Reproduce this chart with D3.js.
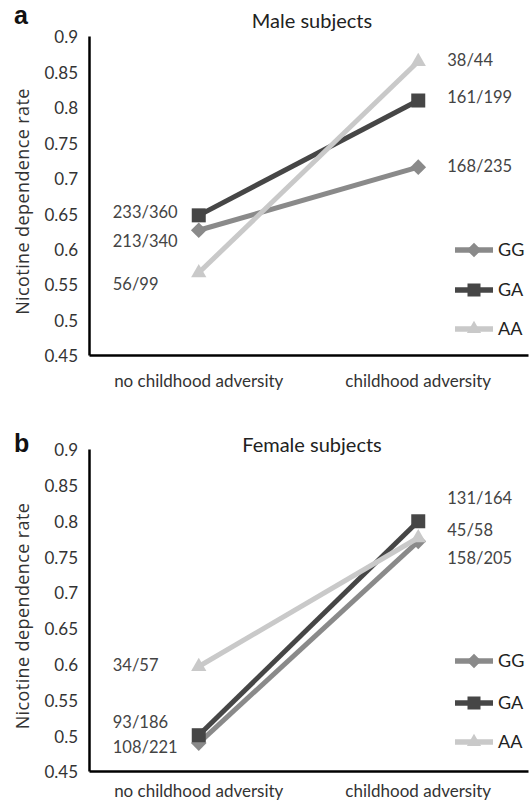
<!DOCTYPE html>
<html>
<head>
<meta charset="utf-8">
<script src="https://cdn.jsdelivr.net/npm/d3@7"></script>
<style>
  body { margin: 0; background: #fff; }
  svg text { font-family: Lato, "Open Sans", sans-serif; }
  .axis text { font-size: 17px; fill: #333; }
  .axis path { stroke: #000; stroke-width: 2.5px; }
</style>
</head>
<body>
<div id="chart"></div>
<script>
// DATA
const conditions = ["no childhood adversity", "childhood adversity"];
const genotypes = ["GG", "GA", "AA"];
const yTicks = [0.45, 0.5, 0.55, 0.6, 0.65, 0.7, 0.75, 0.8, 0.85, 0.9];

// male subjects: rate per genotype (no adversity, adversity)
const maleGG = [0.626, 0.715];
const maleGA = [0.647, 0.809];
const maleAA = [0.566, 0.864];
const maleGGLabels = ["213/340", "168/235"];
const maleGALabels = ["233/360", "161/199"];
const maleAALabels = ["56/99", "38/44"];

// female subjects
const femaleGG = [0.489, 0.771];
const femaleGA = [0.500, 0.799];
const femaleAA = [0.596, 0.776];
const femaleGGLabels = ["108/221", "158/205"];
const femaleGALabels = ["93/186", "131/164"];
const femaleAALabels = ["34/57", "45/58"];

const colors = {GG: "#8a8a8a", GA: "#464646", AA: "#c9c9c9"};

// LAYOUT
const W = 529, H = 805;
const svg = d3.select("#chart").append("svg")
    .attr("width", W)
    .attr("height", H);

const x = d3.scaleBand()
    .domain(conditions)
    .range([89, 528]);

// label y nudges (px) so numbers don't collide, indexed [genotype][condition]
const panels = [
    {letter: "a", title: "Male subjects", top: 36, bottom: 355, letterY: 24, titleY: 28, xPad: 19,
     series: {GG: maleGG, GA: maleGA, AA: maleAA},
     labels: {GG: maleGGLabels, GA: maleGALabels, AA: maleAALabels},
     nudge: {GG: [11, -1], GA: [-3, -3], AA: [11, -1]},
     legendY: [250, 290, 329]},
    {letter: "b", title: "Female subjects", top: 449, bottom: 771, letterY: 452, titleY: 452, xPad: 13,
     series: {GG: femaleGG, GA: femaleGA, AA: femaleAA},
     labels: {GG: femaleGGLabels, GA: femaleGALabels, AA: femaleAALabels},
     nudge: {GG: [4, 17], GA: [-13, -23], AA: [-1, -8]},
     legendY: [661, 703, 742]}
];

function marker(sel, g, size) {
    if (g === "GG") {
        sel.append("path")
            .attr("d", d3.symbol(d3.symbolDiamond2, size * size * 0.8)())
            .attr("fill", colors[g]);
    } else if (g === "GA") {
        sel.append("rect")
            .attr("x", -size / 2).attr("y", -size / 2)
            .attr("width", size).attr("height", size)
            .attr("fill", colors[g]);
    } else {
        sel.append("path")
            .attr("d", d3.symbol(d3.symbolTriangle2, size * size * 0.85)())
            .attr("fill", colors[g]);
    }
}

panels.forEach(p => {
    const y = d3.scaleLinear()
        .domain([0.45, 0.9])
        .range([p.bottom, p.top]);

    const g = svg.append("g");

    // panel letter + title
    g.append("text")
        .attr("x", 14).attr("y", p.letterY)
        .style("font-family", "Arial, 'Liberation Sans', sans-serif")
        .style("font-weight", "bold")
        .style("font-size", "25px")
        .attr("fill", "#111")
        .text(p.letter);

    g.append("text")
        .attr("x", 312).attr("y", p.titleY)
        .attr("text-anchor", "middle")
        .style("font-size", "20px")
        .attr("fill", "#222")
        .text(p.title);

    // y axis label
    g.append("text")
        .attr("transform", "translate(29," + ((p.top + p.bottom) / 2 + 6) + ") rotate(-90)")
        .attr("text-anchor", "middle")
        .style("font-family", "'Open Sans', sans-serif")
        .style("font-size", "18px")
        .style("letter-spacing", "0.4px")
        .attr("fill", "#333")
        .text("Nicotine dependence rate");

    // AXES
    g.append("g")
        .attr("class", "axis")
        .attr("transform", "translate(89,0)")
        .call(d3.axisLeft(y).tickValues(yTicks).tickSize(0).tickPadding(11)
            .tickFormat(d => String(+d.toFixed(2))))
        .call(a => a.selectAll("text").attr("dy", "0.4em"));

    g.append("g")
        .attr("class", "axis")
        .attr("transform", "translate(0," + p.bottom + ")")
        .call(d3.axisBottom(x).tickSize(0).tickPadding(p.xPad))
        .call(a => a.selectAll("text").style("font-size", "17px").attr("dy", "0.75em"));

    // LINES
    const line = d3.line()
        .x((d, i) => x(conditions[i]) + x.bandwidth() / 2)
        .y(d => y(d));

    genotypes.forEach(gt => {
        g.append("path")
            .datum(p.series[gt])
            .attr("d", line)
            .attr("fill", "none")
            .attr("stroke", colors[gt])
            .attr("stroke-width", 5);

        p.series[gt].forEach((v, i) => {
            const m = g.append("g")
                .attr("transform", "translate(" + (x(conditions[i]) + x.bandwidth() / 2) + "," + y(v) + ")");
            marker(m, gt, 14);
        });
    });

    // DATA LABELS
    genotypes.forEach(gt => {
        p.labels[gt].forEach((lab, i) => {
            const lx = i === 0 ? x(conditions[0]) + x.bandwidth() / 2 - 86
                               : x(conditions[1]) + x.bandwidth() / 2 + 29;
            g.append("text")
                .attr("x", lx)
                .attr("y", y(p.series[gt][i]) + p.nudge[gt][i])
                .attr("dy", "0.35em")
                .style("font-size", "16.5px")
                .attr("fill", "#444")
                .text(lab);
        });
    });

    // LEGEND
    genotypes.forEach((gt, i) => {
        const lg = g.append("g")
            .attr("transform", "translate(455," + p.legendY[i] + ")");
        lg.append("line")
            .attr("x1", 0).attr("x2", 38)
            .attr("stroke", colors[gt])
            .attr("stroke-width", 5.5);
        const m = lg.append("g").attr("transform", "translate(19,0)");
        marker(m, gt, 13);
        lg.append("text")
            .attr("x", 43).attr("dy", "0.35em")
            .style("font-size", "18px")
            .attr("fill", "#222")
            .text(gt);
    });
});
</script>
</body>
</html>
